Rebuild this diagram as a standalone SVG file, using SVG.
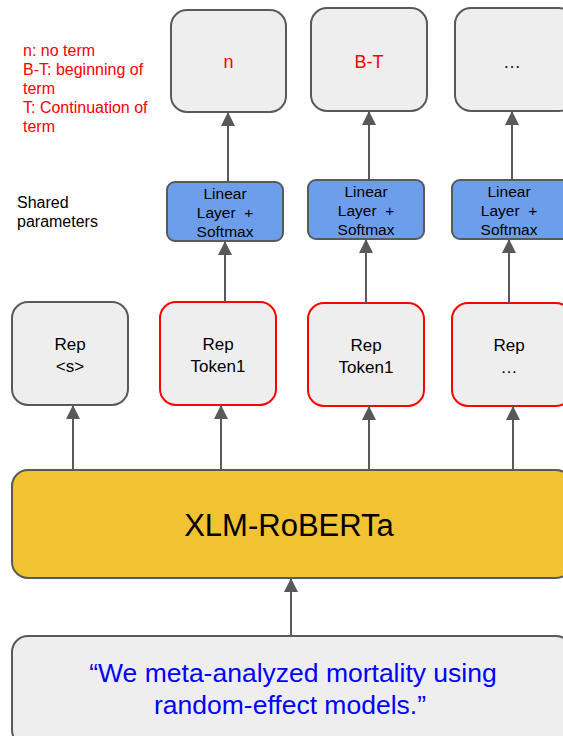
<svg xmlns="http://www.w3.org/2000/svg" width="563" height="736" viewBox="0 0 563 736">
<style>
text{font-family:"Liberation Sans",Arial,sans-serif;text-anchor:middle;fill:#000;white-space:pre}
.box{fill:#eeeeee;stroke:#595959;stroke-width:2}
.red{fill:#eeeeee;stroke:#ff0000;stroke-width:2}
.lin{fill:#6d9eeb;stroke:#595959;stroke-width:2}
.yel{fill:#f1c232;stroke:#595959;stroke-width:2}
.conn line{stroke:#595959;stroke-width:2;marker-end:url(#ah)}
.leg{text-anchor:start;fill:#ff0000;font-size:16px}
.t17{font-size:17px}
.t15{font-size:15.5px}
</style>
<defs>
<marker id="ah" markerUnits="userSpaceOnUse" markerWidth="14" markerHeight="14" refX="14" refY="7" orient="auto">
<path d="M0,0 L14,7 L0,14 z" fill="#595959"/>
</marker>
</defs>
<rect width="563" height="736" fill="#fff"/>

<g id="legend">
<text class="leg" x="23" y="56">n: no term</text>
<text class="leg" x="23" y="75">B-T: beginning of</text>
<text class="leg" x="23" y="94">term</text>
<text class="leg" x="23" y="113">T: Continuation of</text>
<text class="leg" x="23" y="132">term</text>
</g>
<g id="shared">
<text class="t15" x="17" y="208" style="text-anchor:start;font-size:16px">Shared</text>
<text class="t15" x="17" y="227" style="text-anchor:start;font-size:16px">parameters</text>
</g>

<g id="out1"><rect class="box" x="171" y="10" width="115" height="102" rx="16"/><text x="228.5" y="68" style="font-size:18px;fill:#ff0000">n</text></g>
<g id="out2"><rect class="box" x="311" y="8" width="116" height="103" rx="16"/><text x="369" y="68" style="font-size:18px;fill:#ff0000">B-T</text></g>
<g id="out3"><rect class="box" x="455" y="8" width="120" height="103" rx="16"/><text x="512" y="68" style="font-size:18px;fill:#222">…</text></g>

<g id="lin1"><rect class="lin" x="167" y="182" width="116" height="59" rx="8"/>
<text class="t15" x="225" y="198.5">Linear</text><text class="t15" x="225" y="217.5">Layer  +</text><text class="t15" x="225" y="236.5">Softmax</text></g>
<g id="lin2"><rect class="lin" x="308" y="180" width="116" height="59" rx="8"/>
<text class="t15" x="366" y="197">Linear</text><text class="t15" x="366" y="216">Layer  +</text><text class="t15" x="366" y="234.5">Softmax</text></g>
<g id="lin3"><rect class="lin" x="452" y="180" width="120" height="59" rx="8"/>
<text class="t15" x="509" y="197">Linear</text><text class="t15" x="509" y="216">Layer  +</text><text class="t15" x="509" y="234.5">Softmax</text></g>

<g id="rep0"><rect class="box" x="12" y="302" width="116" height="103" rx="16"/>
<text class="t17" x="70" y="350">Rep</text><text class="t17" x="70" y="372">&lt;s&gt;</text></g>
<g id="rep1"><rect class="red" x="160" y="302" width="116" height="103" rx="16"/>
<text class="t17" x="218" y="350">Rep</text><text class="t17" x="218" y="372">Token1</text></g>
<g id="rep2"><rect class="red" x="308" y="303" width="116" height="103" rx="16"/>
<text class="t17" x="366" y="351">Rep</text><text class="t17" x="366" y="373">Token1</text></g>
<g id="rep3"><rect class="red" x="452" y="303" width="120" height="103" rx="16"/>
<text class="t17" x="509" y="351">Rep</text><text class="t17" x="509" y="373">…</text></g>

<g id="xlmr"><rect class="yel" x="12" y="470" width="560" height="108" rx="16"/>
<text x="289" y="536" style="font-size:31px">XLM-RoBERTa</text></g>

<g id="input"><rect class="box" x="12" y="636" width="560" height="110" rx="16"/>
<text x="293" y="682" style="font-size:26.5px;fill:#0000ff">“We meta-analyzed mortality using</text>
<text x="290" y="714" style="font-size:26.5px;fill:#0000ff">random-effect models.”</text></g>

<g id="connectors" class="conn">
<line x1="228" y1="182" x2="228" y2="112"/>
<line x1="369" y1="180" x2="369" y2="111"/>
<line x1="512" y1="180" x2="512" y2="111"/>
<line x1="225" y1="302" x2="225" y2="241"/>
<line x1="366" y1="303" x2="366" y2="239"/>
<line x1="509" y1="303" x2="509" y2="239"/>
<line x1="73" y1="470" x2="73" y2="405"/>
<line x1="221" y1="470" x2="221" y2="405"/>
<line x1="369" y1="470" x2="369" y2="406"/>
<line x1="513" y1="470" x2="513" y2="406"/>
<line x1="291" y1="636" x2="291" y2="578"/>
</g>
</svg>
